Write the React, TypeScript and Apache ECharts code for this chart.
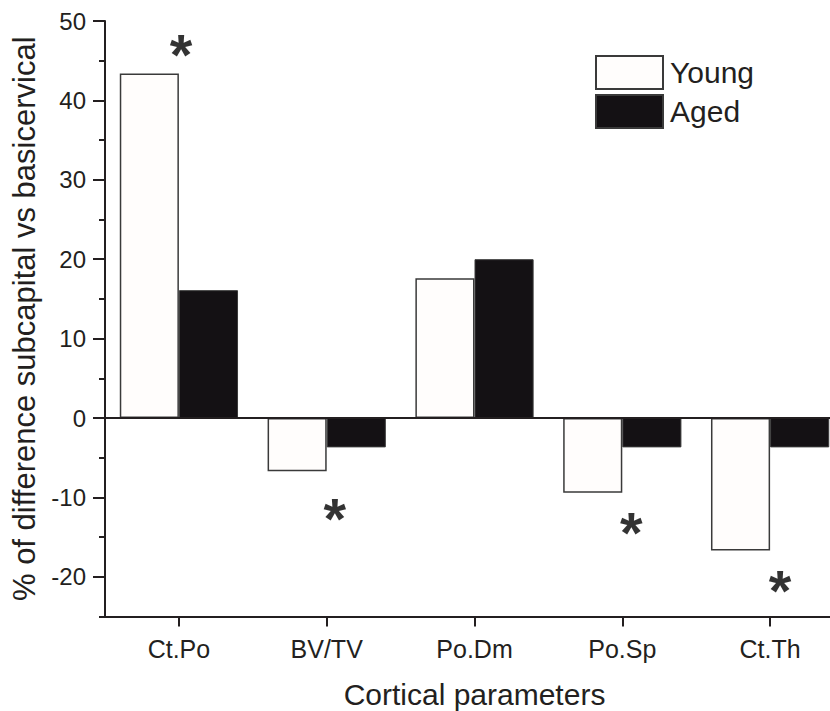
import React, { useEffect, useRef } from "react";
import * as echarts from "echarts";

const categories = ["Ct.Po", "BV/TV", "Po.Dm", "Po.Sp", "Ct.Th"];
const young = [43.4, -6.7, 17.6, -9.4, -16.7];
const aged = [16.1, -3.7, 20.0, -3.7, -3.7];
const majorTicks = [-20, -10, 0, 10, 20, 30, 40, 50];
// significance markers: [category position, value]
const stars = [
  [0.015, 47.1],
  [1.054, -11.4],
  [3.061, -13.1],
  [4.068, -20.5],
];

const FONT = "'Liberation Sans', Arial, Helvetica, sans-serif";
const INK = "#231f20";

export default function App() {
  const ref = useRef<HTMLDivElement>(null);
  useEffect(() => {
    if (!ref.current) return;
    const chart = echarts.init(ref.current, undefined, { renderer: "svg" });
    chart.setOption({
      animation: false,
      backgroundColor: "#ffffff",
      textStyle: { fontFamily: FONT, color: INK },
      grid: {
        left: 105,
        right: -14,
        top: 21,
        bottom: 94.5,
        containLabel: false,
        outerBoundsMode: "none",
      },
      legend: {
        orient: "vertical",
        left: 590,
        top: 50,
        icon: "rect",
        itemWidth: 67,
        itemHeight: 33,
        itemGap: 4,
        textStyle: { fontFamily: FONT, fontSize: 30, color: INK, padding: [0, 0, 0, 2] },
        data: ["Young", "Aged"],
      },
      xAxis: [
        {
          type: "category",
          data: categories,
          boundaryGap: true,
          position: "bottom",
          axisLine: { show: true, onZero: false, lineStyle: { color: INK, width: 2 } },
          axisTick: { show: true, inside: false, alignWithLabel: true, length: 10, lineStyle: { color: INK, width: 2 } },
          axisLabel: { fontFamily: FONT, fontSize: 25, color: INK, margin: 20 },
          name: "Cortical parameters",
          nameLocation: "middle",
          nameGap: 63,
          nameTextStyle: { fontFamily: FONT, fontSize: 30, color: INK },
          splitLine: { show: false },
        },
        {
          type: "value",
          min: -0.5,
          max: 4.5,
          show: false,
        },
      ],
      yAxis: [
        {
          type: "value",
          min: -25,
          max: 50,
          interval: 5,
          position: "left",
          axisLine: { show: true, onZero: false, lineStyle: { color: INK, width: 2 } },
          axisTick: { show: true, inside: false, length: 6, lineStyle: { color: INK, width: 2 } },
          axisLabel: {
            fontFamily: FONT,
            fontSize: 24,
            color: INK,
            margin: 19,
            formatter: (v: number) => (majorTicks.includes(v) ? String(v) : ""),
          },
          splitLine: { show: false },
          name: "% of difference subcapital vs basicervical",
          nameLocation: "middle",
          nameGap: 65,
          nameTextStyle: { fontFamily: FONT, fontSize: 31, color: INK },
        },
        {
          type: "value",
          min: -25,
          max: 50,
          interval: 5,
          position: "left",
          axisLine: { show: false, onZero: false },
          axisTick: { show: true, inside: false, length: 12, customValues: majorTicks, lineStyle: { color: INK, width: 2 } },
          axisLabel: { show: false },
          splitLine: { show: false },
        },
      ],
      series: [
        {
          name: "Young",
          type: "bar",
          xAxisIndex: 0,
          yAxisIndex: 0,
          data: young,
          barGap: "0%",
          barCategoryGap: "20%",
          itemStyle: { color: "#fffdfc", borderColor: "#3a3a3a", borderWidth: 1.5 },
          markLine: {
            silent: true,
            symbol: "none",
            label: { show: false },
            lineStyle: { color: INK, width: 2, type: "solid" },
            data: [{ yAxis: 0 }],
          },
        },
        {
          name: "Aged",
          type: "bar",
          xAxisIndex: 0,
          yAxisIndex: 0,
          data: aged,
          barGap: "0%",
          barCategoryGap: "20%",
          itemStyle: { color: "#141114", borderColor: "#3a3a3a", borderWidth: 1 },
        },
        {
          name: "sig",
          type: "scatter",
          xAxisIndex: 1,
          yAxisIndex: 0,
          data: stars,
          symbolSize: 0,
          silent: true,
          label: {
            show: true,
            position: "inside",
            formatter: "*",
            fontFamily: FONT,
            fontWeight: "bold",
            fontSize: 58,
            color: "#000000",
            textBorderWidth: 0,
            offset: [0, 10],
          },
        },
      ],
    });
    return () => chart.dispose();
  }, []);
  return (
    <div
      ref={ref}
      style={{ position: "fixed", left: 0, top: 0, width: 830, height: 711, background: "#fff" }}
    />
  );
}
